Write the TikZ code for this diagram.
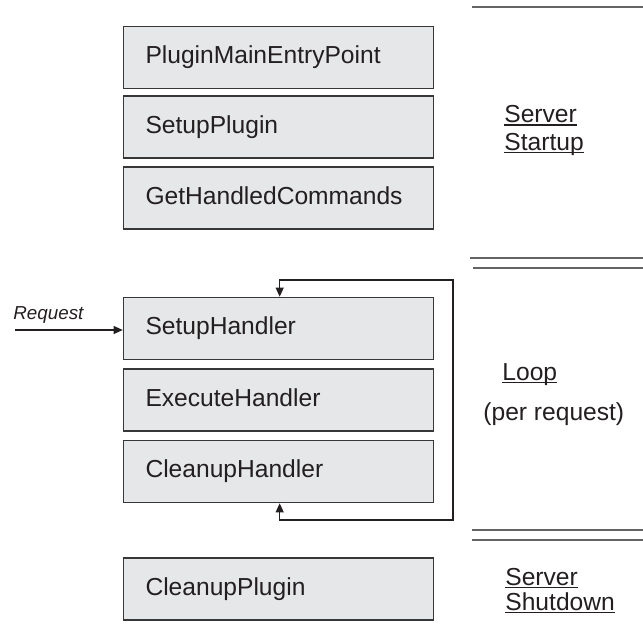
\documentclass[tikz,border=0pt]{standalone}
\usepackage{fontspec}
\setmainfont{Liberation Sans}
\usetikzlibrary{arrows.meta}
\definecolor{boxfill}{RGB}{230,231,232}
\definecolor{boxline}{RGB}{55,55,55}
\definecolor{sepline}{RGB}{100,100,100}
\definecolor{ink}{RGB}{35,31,32}
\newcommand\ulword[1]{\setbox0\hbox{#1}\rlap{\rule[-1.7pt]{\wd0}{0.8pt}}\box0}
\begin{document}
\begin{tikzpicture}[x=0.5pt,y=-0.5pt,
  stepbox/.style={draw=boxline, line width=0.75pt, fill=boxfill, rectangle,
    minimum width=155pt, minimum height=31pt, inner xsep=11pt, inner ysep=0pt,
    text width=133pt, align=left, text height=9pt, text depth=2.6pt,
    font=\fontsize{12.3}{14}\selectfont, text=ink},
  phase/.style={anchor=base west, inner sep=0pt, font=\fontsize{12.3}{14}\selectfont, text=ink},
  sep/.style={draw=sepline, line width=0.6pt},
  tip/.style={Triangle[length=4.6pt,width=4pt]},
  conn/.style={draw=ink, line width=0.65pt, -{Triangle[length=4.6pt,width=4pt]}},
  conn2/.style={draw=ink, line width=0.65pt, {Triangle[length=4.6pt,width=4pt]}-{Triangle[length=4.6pt,width=4pt]}}
]
\path[use as bounding box] (0,0) rectangle (643,637);

% startup boxes
\node[stepbox] (pmep) at (278.5,57.5) {PluginMainEntryPoint};
\node[stepbox] (sp) at (278.5,127) {SetupPlugin};
\node[stepbox] (ghc) at (278.5,198) {GetHandledCommands};

% loop boxes
\node[stepbox] (sh) at (278.5,328.5) {SetupHandler};
\node[stepbox] (eh) at (278.5,400) {ExecuteHandler};
\node[stepbox] (ch) at (278.5,471.5) {CleanupHandler};

% shutdown box
\node[stepbox] (cp) at (278.5,589) {CleanupPlugin};

% request arrow
\node[anchor=base west, inner sep=0pt, font=\fontsize{9.4}{11}\selectfont\itshape, text=ink] (reqlbl) at (13,319) {Request};
\coordinate (req) at (15,330);
\draw[conn] (req) -- (req -| sh.west);

% loop connector
\coordinate (lb) at (453,520);
\coordinate (lt) at (453,280);
\draw[conn2] ([xshift=0.6pt]ch.south) |- (lb) -- (lt) -| ([xshift=0.6pt]sh.north);

% separator lines
\draw[sep] (472,7) -- (643,7);
\draw[sep] (470,258) -- (643,258);
\draw[sep] (473,268) -- (643,268);
\draw[sep] (472,530) -- (643,530);
\draw[sep] (472,540) -- (643,540);

% phase labels
\node[phase] (s1) at (504,122.5) {\ulword{Server}};
\node[phase] (s2) at (504,150) {\ulword{Startup}};
\node[phase] (l1) at (502,380) {\ulword{Loop}};
\node[phase] (l2) at (483,420) {(per request)};
\node[phase] (d1) at (505,585) {\ulword{Server}};
\node[phase] (d2) at (505,610) {\ulword{Shutdown}};
\end{tikzpicture}
\end{document}
